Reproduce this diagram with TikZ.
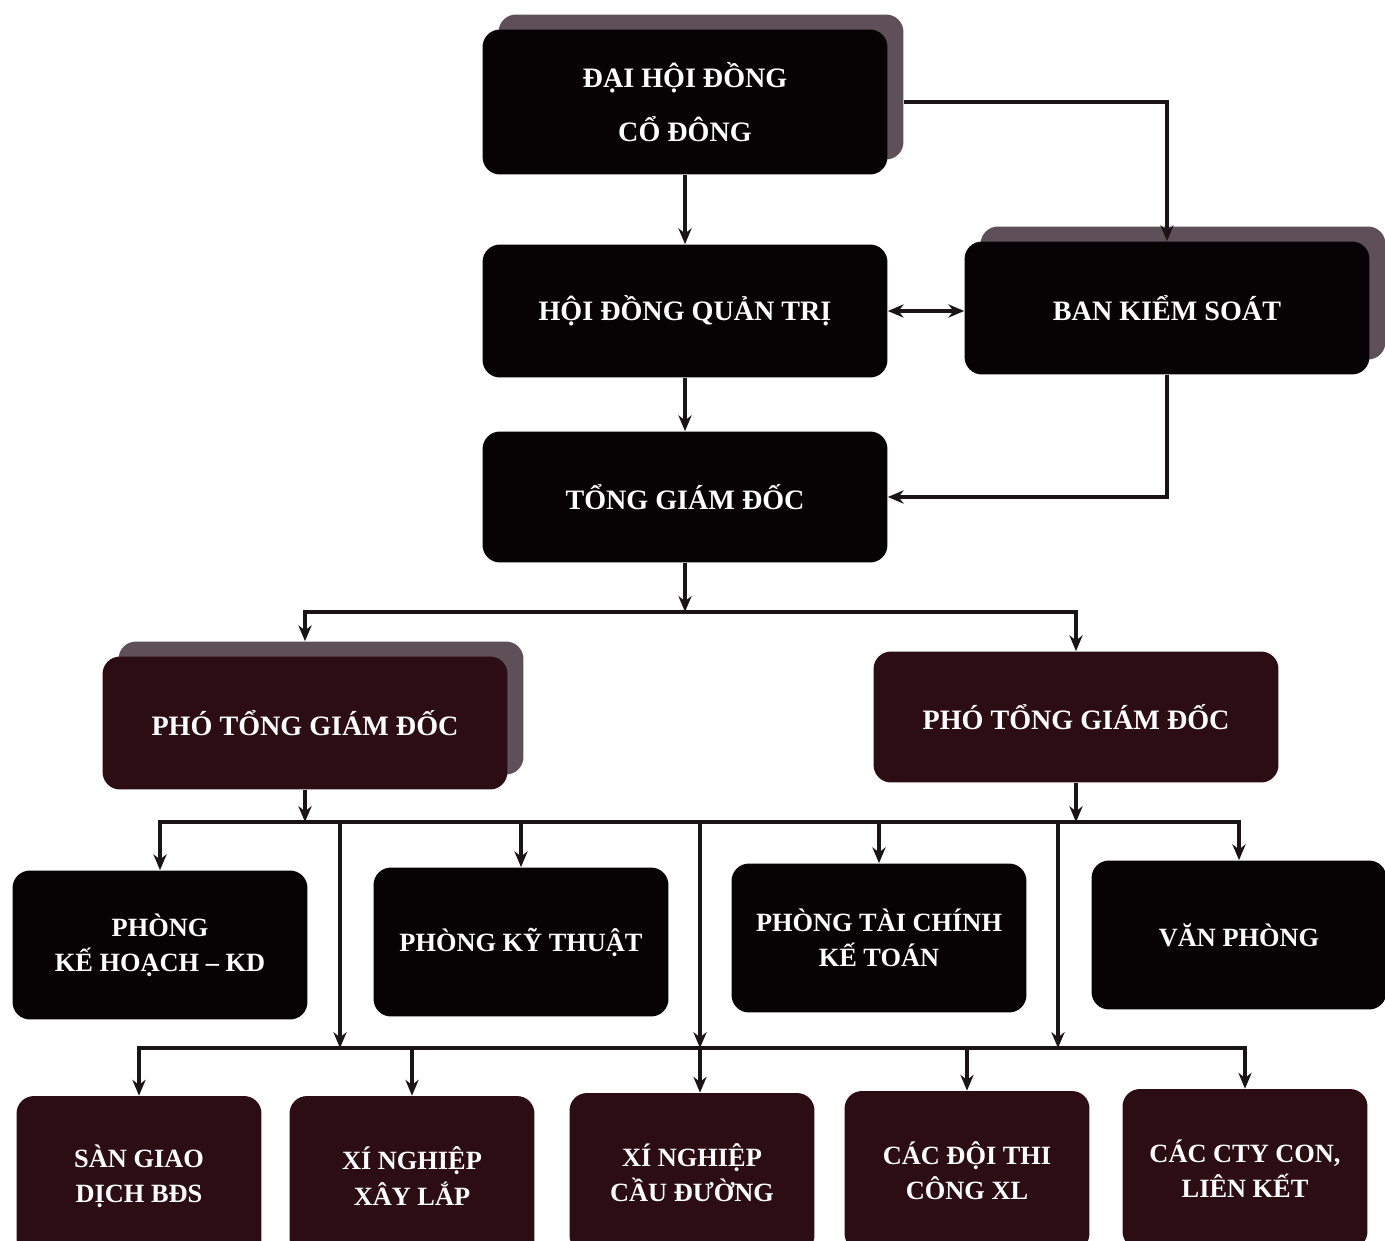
\documentclass[tikz,border=0pt]{standalone}
\usepackage{fontspec}
\setmainfont{Liberation Serif}
\usetikzlibrary{arrows.meta,shadows}

\definecolor{boxblack}{HTML}{070204}
\definecolor{boxmaroon}{HTML}{2B0D13}
\definecolor{shadowgray}{HTML}{5E4F58}
\definecolor{linegray}{HTML}{1A1416}

\tikzset{
  orgbox/.style={rounded corners=0.35cm, fill=boxblack, text=white, align=center,
    inner sep=0pt, font=\bfseries\fontsize{16}{31}\selectfont},
  bigbox/.style={orgbox, minimum width=8.1cm, minimum height=2.66cm},
  deptbox/.style={orgbox, minimum width=5.9cm, minimum height=2.98cm,
    font=\bfseries\fontsize{15}{20}\selectfont},
  branchbox/.style={orgbox, fill=boxmaroon, minimum width=4.9cm, minimum height=3.2cm,
    font=\bfseries\fontsize{15}{20}\selectfont},
  shadowed/.style={general shadow={shadow xshift=0.32cm, shadow yshift=0.30cm, fill=shadowgray}},
  link/.style={line width=1.9pt, draw=linegray},
  arr/.style={link, -{Stealth[length=9pt,width=7.5pt]}},
  biarr/.style={link, {Stealth[length=9pt,width=7.5pt]}-{Stealth[length=9pt,width=7.5pt]}},
}

\begin{document}
\begin{tikzpicture}[x=0.02cm, y=-0.02cm]
  \useasboundingbox (0,0) rectangle (1385,1240);

  % top levels
  \node[bigbox, shadowed, minimum height=2.9cm] (dhd) at (685,102) {ĐẠI HỘI ĐỒNG\\CỔ ĐÔNG};
  \node[bigbox] (hdqt) at (685,311) {HỘI ĐỒNG QUẢN TRỊ};
  \node[bigbox, shadowed] (bks) at (1167,308) {BAN KIỂM SOÁT};
  \node[bigbox, minimum height=2.62cm] (tgd) at (685,497) {TỔNG GIÁM ĐỐC};
  \node[bigbox, shadowed, fill=boxmaroon] (ptl) at (305,723) {PHÓ TỔNG GIÁM ĐỐC};
  \node[bigbox, fill=boxmaroon, minimum height=2.62cm] (ptr) at (1076,717) {PHÓ TỔNG GIÁM ĐỐC};

  % departments
  \node[deptbox] (pkh) at (160,945) {PHÒNG\\KẾ HOẠCH – KD};
  \node[deptbox] (pkt) at (521,942) {PHÒNG KỸ THUẬT};
  \node[deptbox] (ptc) at (879,938) {PHÒNG TÀI CHÍNH\\KẾ TOÁN};
  \node[deptbox] (vp) at (1239,935) {VĂN PHÒNG};

  % units
  \node[branchbox] (san) at (139,1176) {SÀN GIAO\\DỊCH BĐS};
  \node[branchbox] (xnxl) at (412,1176) {XÍ NGHIỆP\\XÂY LẮP};
  \node[branchbox] (xncd) at (692,1173) {XÍ NGHIỆP\\CẦU ĐƯỜNG};
  \node[branchbox] (cdtc) at (967,1171) {CÁC ĐỘI THI\\CÔNG XL};
  \node[branchbox] (cty) at (1245,1169) {CÁC CTY CON,\\LIÊN KẾT};

  % connectors
  \draw[arr] (dhd.south) -- (hdqt.north);
  \draw[arr] ([xshift=0.32cm]dhd.east) -| (bks.north);
  \draw[biarr] (hdqt.east) -- (hdqt.east -| bks.west);
  \draw[arr] (hdqt.south) -- (tgd.north);
  \draw[arr] (bks.south) |- (tgd.east);
  \coordinate (split) at ([yshift=-0.98cm]tgd.south);
  \draw[arr] (tgd.south) -- (split);
  \draw[arr] (split) -| ([yshift=0.3cm]ptl.north);
  \draw[arr] (split) -| (ptr.north);

  \coordinate (busA) at (0,822);
  \coordinate (busB) at (0,1048);
  \draw[arr] (ptl.south) -- (ptl.south |- busA);
  \draw[arr] (ptr.south) -- (ptr.south |- busA);
  \draw[link, line cap=rect] (pkh.north |- busA) -- (vp.north |- busA);
  \foreach \n in {pkh,pkt,ptc,vp} \draw[arr] (\n.north |- busA) -- (\n.north);
  \foreach \x [count=\i] in {340,700,1058} {
    \coordinate (up\i) at (\x,822);
    \coordinate (dn\i) at (\x,1048);
    \draw[arr] (up\i) -- (dn\i);
  }
  \draw[link, line cap=rect] (san.north |- busB) -- (cty.north |- busB);
  \foreach \n in {san,xnxl,cdtc,cty} \draw[arr] (\n.north |- busB) -- (\n.north);
  \draw[arr] (dn2) -- (dn2 |- xncd.north);
\end{tikzpicture}
\end{document}
